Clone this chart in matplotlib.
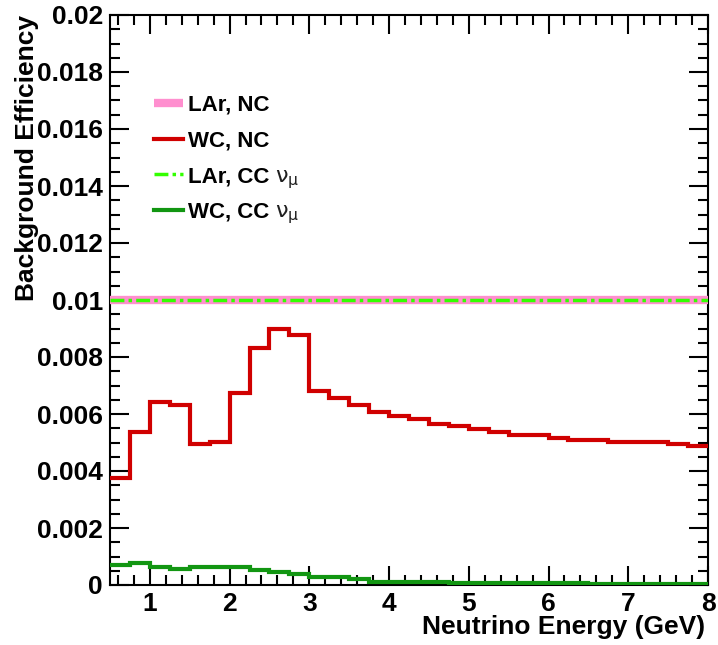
import numpy as np
import matplotlib
matplotlib.use("Agg")
import matplotlib.pyplot as plt
from matplotlib.ticker import MultipleLocator, FixedLocator

plt.rcParams['font.family'] = ['Liberation Sans', 'DejaVu Sans']
plt.rcParams['font.weight'] = 'normal'
plt.rcParams['mathtext.fontset'] = 'dejavusans'

# Bin edges of the energy histograms (GeV)
bin_edges = [0.5, 0.75, 1.0, 1.25, 1.5, 1.75, 2.0, 2.25, 2.5, 2.75, 3.0,
             3.25, 3.5, 3.75, 4.0, 4.25, 4.5, 4.75, 5.0, 5.25, 5.5,
             5.75, 6.0, 6.25, 6.5, 6.75, 7.0, 7.25, 7.5, 7.75, 8.0]

# Background efficiencies per bin
wc_nc = [0.00374, 0.00537, 0.00642, 0.00633, 0.00494, 0.00502, 0.00674,
         0.00833, 0.00897, 0.00876, 0.00680, 0.00656, 0.00633, 0.00607,
         0.00592, 0.00584, 0.00566, 0.00558, 0.00549, 0.00536, 0.00526,
         0.00526, 0.00517, 0.00510, 0.00510, 0.00503, 0.00503, 0.00503,
         0.00496, 0.00487]
wc_cc = [0.00070, 0.00078, 0.00064, 0.00055, 0.00064, 0.00064, 0.00064,
         0.00053, 0.00044, 0.00037, 0.00029, 0.00029, 0.00021, 0.00012,
         0.00010, 0.00010, 0.00009, 0.00008, 0.00008, 0.00007, 0.00007,
         0.00006, 0.00006, 0.00006, 0.00005, 0.00005, 0.00005, 0.00005,
         0.00005, 0.00005]
lar_nc = 0.01
lar_cc = 0.01

labels = ['LAr, NC', 'WC, NC', 'LAr, CC', 'WC, CC']
label_suffix = ['', '', r'$\mathrm{\nu_{\mu}}$', r'$\mathrm{\nu_{\mu}}$']
xtick_labels = ['1', '2', '3', '4', '5', '6', '7', '8']
ytick_labels = ['0', '0.002', '0.004', '0.006', '0.008', '0.01', '0.012',
                '0.014', '0.016', '0.018', '0.02']

W, H = 718, 645
fig = plt.figure(figsize=(W / 100, H / 100), dpi=100)
L, R, B, T = 110, 708, 585, 15
ax = fig.add_axes([L / W, (H - B) / H, (R - L) / W, (B - T) / H])

edges = np.array(bin_edges)
ax.plot(edges, [lar_nc] * len(edges), color='#ff8fcf', lw=6, solid_capstyle='butt',
        label=labels[0], zorder=3)
ax.stairs(wc_nc, edges, color='#d00000', lw=3, baseline=None, label=labels[1], zorder=4)
ax.plot(edges, [lar_cc] * len(edges), color='#33ff00', lw=2.5, ls=(0, (4, 1.2, 1, 1.2)),
        label=labels[2], zorder=5)
ax.stairs(wc_cc, edges, color='#129612', lw=3, baseline=None, label=labels[3], zorder=4)

ax.set_xlim(0.5, 8)
ax.set_ylim(0, 0.02)
ax.xaxis.set_major_locator(FixedLocator([1, 2, 3, 4, 5, 6, 7, 8]))
ax.xaxis.set_minor_locator(MultipleLocator(0.2))
ax.yaxis.set_minor_locator(MultipleLocator(0.0005))
ax.set_yticks(np.arange(0, 0.0201, 0.002))
ax.set_yticklabels(ytick_labels, fontweight='bold')
ax.set_xticklabels(xtick_labels, fontweight='bold')

ax.tick_params(which='both', direction='in', top=True, right=True, width=1.5,
               labelsize=19, colors='black')
ax.tick_params(which='major', length=14, pad=5)
ax.tick_params(which='minor', length=7)
for s in ax.spines.values():
    s.set_linewidth(1.5)

ax.set_ylabel('Background Efficiency', fontsize=19, fontweight='bold', loc='top')
ax.yaxis.set_label_coords(-0.119, 1.0)
ax.set_xlabel('Neutrino Energy (GeV)', fontsize=19, fontweight='bold', loc='right')
ax.xaxis.set_label_coords(0.995, -0.053)

leg = ax.legend(loc='upper left', bbox_to_anchor=((145 - L) / (R - L), (B - 86) / (B - T)),
                frameon=False, prop={'size': 16, 'weight': 'bold'}, handlelength=1.3,
                handletextpad=0.25, labelspacing=0.66, borderaxespad=0)

# append the (non-bold) neutrino symbol after the bold legend labels
fig.canvas.draw()
rend = fig.canvas.get_renderer()
for t, suf in zip(leg.get_texts(), label_suffix):
    if not suf:
        continue
    bb = t.get_window_extent(rend)
    _, _, d = rend.get_text_width_height_descent('lp', t.get_fontproperties(), ismath=False)
    fig.text((bb.x1 + 5) / W, (bb.y0 + d) / H, suf, fontsize=16, fontweight='normal',
             color='#202020', va='baseline', ha='left')

fig.savefig('out.png', dpi=100)
